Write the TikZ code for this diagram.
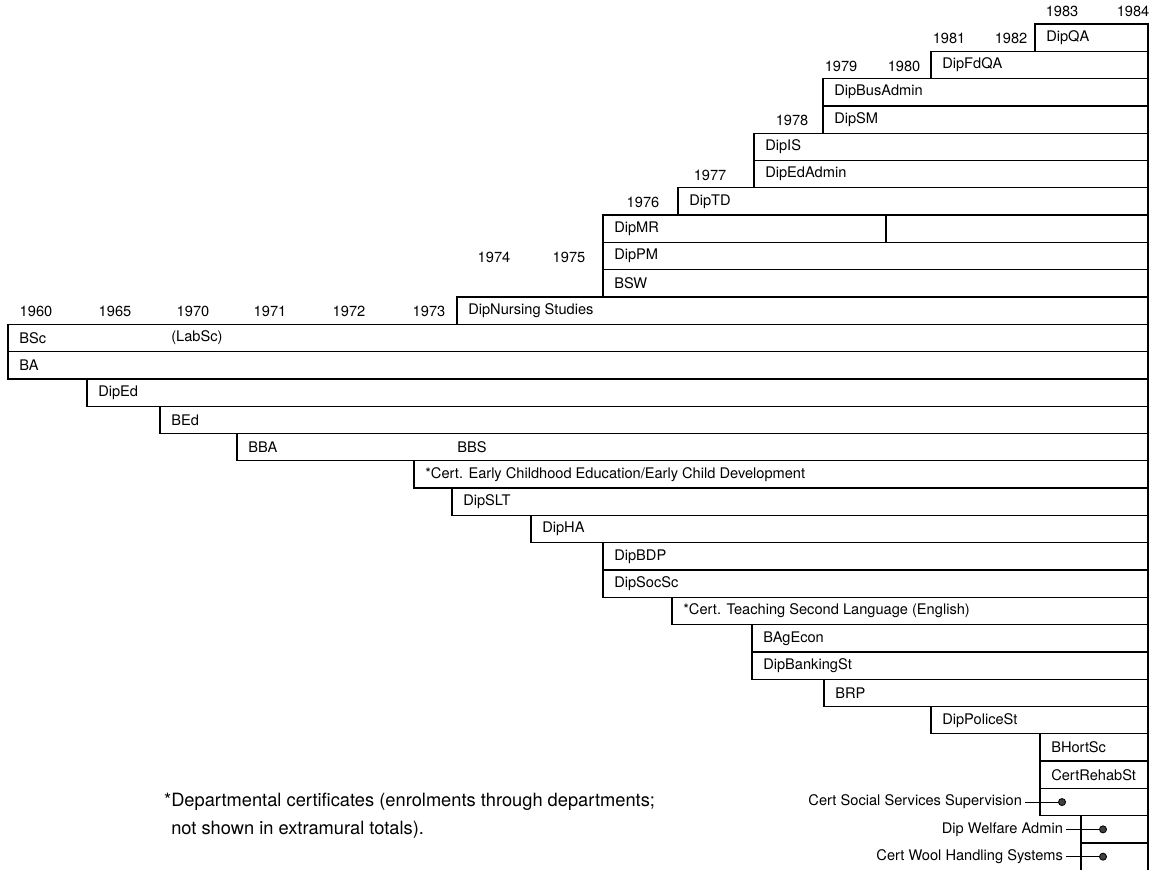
\documentclass[tikz,border=0pt]{standalone}
\usepackage{fontspec}
\setmainfont{TeX Gyre Heros}
\begin{document}
\begin{tikzpicture}[x=0.025cm,y=-0.025cm,
        row/.style={draw,line width=0.95pt},
        lbl/.style={anchor=west,inner sep=0pt,font=\fontsize{10.4}{12}\selectfont},
        yr/.style={inner sep=0pt,font=\fontsize{10.4}{12}\selectfont},
        side/.style={anchor=east,inner sep=2pt,font=\fontsize{10.4}{12}\selectfont},
        pin/.style={circle,fill=black!75,draw=black,line width=0.6pt,inner sep=0pt,minimum size=5pt}]
        \useasboundingbox (0,0) rectangle (1154,869);
        \def\rt{1148}
        \def\h{27.3}
        \foreach \l/\t [count=\k from 0] in {1035/DipQA,931/DipFdQA,823/DipBusAdmin,823/DipSM,
            754/DipIS,754/DipEdAdmin,678/DipTD,603/DipMR,603/DipPM,603/BSW,457/DipNursing Studies,
            8/BSc,8/BA,87/DipEd,160/BEd,237/BBA,
            414/{*Cert. Early Childhood Education/Early Child Development},
            452/DipSLT,531/DipHA,603/DipBDP,603/DipSocSc,672/{*Cert. Teaching Second Language (English)},
            752/BAgEcon,752/DipBankingSt,824/BRP,931/DipPoliceSt,1040/BHortSc,1040/CertRehabSt,
            1040/{},1081/{},1081/{}} {
            \pgfmathsetmacro\ytop{24+\h*\k}
            \draw[row] (\l,\ytop) rectangle (\rt,\ytop+\h);
            \node[lbl] (r\k) at (\l+11,\ytop+\h/2) {\t};
          }
        \draw[row] (886,24+7*\h) -- ++(0,\h);
        \node[lbl] (labsc) at (171,24+11.5*\h) {(LabSc)};
        \node[lbl] (bbs) at (457,24+15.5*\h) {BBS};
        \foreach \y/\x/\k in {1983/1062/-1,1984/1133/-1,1981/949/0,1982/1011/0,1979/841/1,1980/904/1,
            1978/792/3,1977/710/5,1976/643/6,1974/494/8,1975/569/8,1960/36/10,1965/115/10,
            1970/193/10,1971/270/10,1972/349/10,1973/429/10} {
            \node[yr] (y\y) at (\x,24+\h*\k+\h/2+1) {\y};
          }
        \node[side] (sss) at (1025,24+28.5*\h) {Cert Social Services Supervision};
        \node[pin] (psss) at (1062,24+28.5*\h) {};
        \node[side] (dwa) at (1066,24+29.5*\h) {Dip Welfare Admin};
        \node[pin] (pdwa) at (1103,24+29.5*\h) {};
        \node[side] (cwh) at (1066,24+30.5*\h) {Cert Wool Handling Systems};
        \node[pin] (pcwh) at (1103,24+30.5*\h) {};
        \foreach \a/\b in {sss/psss,dwa/pdwa,cwh/pcwh}
            \draw[line width=0.8pt] (\a.east) -- (\b);
        \node[anchor=north west,align=left,inner sep=0pt,font=\fontsize{13}{19.5}\selectfont] (note) at (171,793)
            {\llap{*}Departmental certificates (enrolments through departments;\\not shown in extramural totals).};
    \end{tikzpicture}
\end{document}
